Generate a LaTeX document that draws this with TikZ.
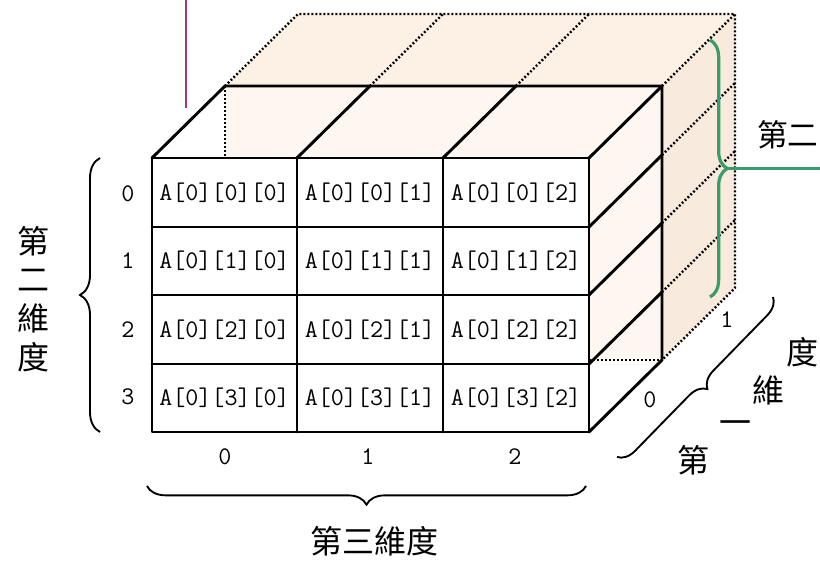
\documentclass[tikz,border=0pt]{standalone}
\usepackage{fontspec}
\newfontfamily\cjk{Noto Sans CJK TC}
\usetikzlibrary{decorations.pathreplacing}
\definecolor{topc}{HTML}{FDF0E5}
\definecolor{sidec}{HTML}{F8EADD}
\definecolor{frontc}{HTML}{FEF6F0}
\definecolor{magc}{HTML}{A8336E}
\definecolor{grc}{HTML}{3A9B6B}
\begin{document}
\begin{tikzpicture}[x=0.75pt,y=-0.75pt,
  edge/.style={line width=2.2pt, line cap=round, line join=round},
  hid/.style={line width=1.8pt, dash pattern=on 1.4pt off 1.6pt},
  cell/.style={font=\ttfamily\fontsize{19}{22}\selectfont, inner sep=0pt},
  idx/.style={font=\ttfamily\fontsize{19}{22}\selectfont, inner sep=0pt},
  lab/.style={font=\cjk\fontsize{24}{29}\selectfont, inner sep=0pt},
  br/.style={decorate, decoration={brace, amplitude=#1}, line width=1.4pt},
  br/.default=14pt]
\useasboundingbox (0,0) rectangle (820,560);
% fills
\fill[topc] (225,86) -- (298,14) -- (735,14) -- (662,86) -- cycle;
\fill[sidec] (662,86) -- (735,14) -- (735,288) -- (662,360) -- cycle;
\fill[frontc] (225,86) rectangle (662,360);
\fill[white] (152,158) rectangle (589,432);
% hidden (dotted) edges of the back layer
\draw[hid] (225,86) -- (225,158);
\draw[hid] (589,360) -- (662,360);
\draw[hid] (225,86) -- (298,14) -- (735,14) -- (735,288) -- (662,360);
\draw[hid] (370,86) -- (443,14);
\draw[hid] (516,86) -- (589,14);
\draw[hid] (662,86) -- (735,14);
\draw[hid] (662,155) -- (735,83);
\draw[hid] (662,223) -- (735,151);
\draw[hid] (662,292) -- (735,220);
% front block
\draw[edge] (152,158) rectangle (589,432);
\draw[edge] (297,158) -- (297,432) (443,158) -- (443,432);
\draw[edge] (152,227) -- (589,227) (152,295) -- (589,295) (152,364) -- (589,364);
\draw[edge] (152,158) -- (225,86) -- (662,86) -- (662,360) -- (589,432);
\draw[edge] (297,158) -- (370,86) (443,158) -- (516,86) (589,158) -- (662,86);
\draw[edge] (589,227) -- (662,155) (589,295) -- (662,223) (589,364) -- (662,292);
% cells
\node[cell] (c00) at (224.5,192.5) {A[0][0][0]};
\node[cell] (c01) at (370,192.5) {A[0][0][1]};
\node[cell] (c02) at (516,192.5) {A[0][0][2]};
\node[cell] (c10) at (224.5,261) {A[0][1][0]};
\node[cell] (c11) at (370,261) {A[0][1][1]};
\node[cell] (c12) at (516,261) {A[0][1][2]};
\node[cell] (c20) at (224.5,329.5) {A[0][2][0]};
\node[cell] (c21) at (370,329.5) {A[0][2][1]};
\node[cell] (c22) at (516,329.5) {A[0][2][2]};
\node[cell] (c30) at (224.5,398) {A[0][3][0]};
\node[cell] (c31) at (370,398) {A[0][3][1]};
\node[cell] (c32) at (516,398) {A[0][3][2]};
% magenta line
\coordinate (m1) at (186,0);
\coordinate (m2) at (186,108);
\draw[magc, line width=2pt] (m1) -- (m2);
% row indices and left brace
\node[idx] (r0) at (128,194) {0};
\node[idx] (r1) at (128,261) {1};
\node[idx] (r2) at (128,330) {2};
\node[idx] (r3) at (128,397) {3};
\coordinate (lb1) at (100,432);
\coordinate (lb2) at (100,158);
\draw[br=15pt] (lb1) -- (lb2);
\node[lab, align=center] (ldim) at (33,299) {第\\二\\維\\度};
% column indices and bottom brace
\node[idx] (k0) at (225,457) {0};
\node[idx] (k1) at (368,457) {1};
\node[idx] (k2) at (515,457) {2};
\coordinate (bb1) at (586,486);
\coordinate (bb2) at (147,486);
\draw[br=14pt] (bb1) -- (bb2);
\node[lab] (bdim) at (374,541) {第三維度};
% depth indices and diagonal brace
\node[idx] (d0) at (650,400) {0};
\node[idx] (d1) at (727,320) {1};
\coordinate (db1) at (773,297);
\coordinate (db2) at (617,457);
\draw[br=13pt] (db1) -- (db2);
\node[lab] (q1) at (693,460) {第};
\node[lab] (q2) at (735,428) {一};
\node[lab] (q3) at (768,390) {維};
\node[lab] (q4) at (802,352) {度};
% green brace on the right
\coordinate (g1) at (710,40);
\coordinate (g2) at (710,297);
\coordinate (gt) at (727,168.5);
\coordinate (ge) at (820,168.5);
\draw[grc, decorate, decoration={brace, amplitude=13pt}, line width=2.4pt] (g1) -- (g2);
\draw[grc, line width=1.6pt] (gt) -- (ge);
\node[lab, anchor=west, font=\cjk\fontsize{23}{28}\selectfont] (rdim) at (757,135) {第二};
\end{tikzpicture}
\end{document}
